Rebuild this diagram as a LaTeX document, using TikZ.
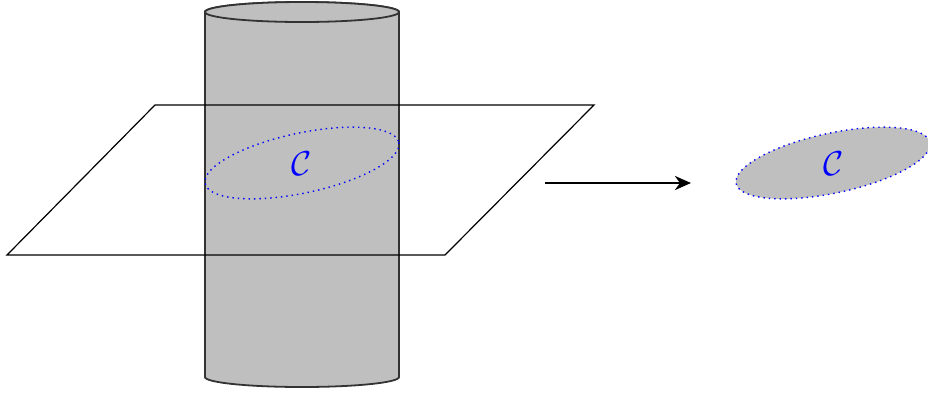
\documentclass[tikz,border=0pt]{standalone}
\usetikzlibrary{arrows.meta}
\begin{document}
\begin{tikzpicture}[x=0.5pt,y=-0.5pt,
  cyl/.style={fill=black!25,draw=black!80,line width=0.9pt},
  planeln/.style={draw=black,line width=0.6pt},
  curve/.style={draw=blue,dotted,line width=0.7pt},
  lbl/.style={text=blue,font=\fontsize{17}{20}\selectfont},
  mapto/.style={draw=black,line width=1.4pt,-{Stealth[length=8pt,width=7pt,inset=2.5pt]}}]
\useasboundingbox (0,0) rectangle (928,393);
% cylinder
\path[cyl] (205,12) -- (205,377) arc[start angle=180,end angle=0,x radius=97,y radius=10] -- (399,12) arc[start angle=0,end angle=-180,x radius=97,y radius=10] -- cycle;
\draw[cyl] (302,12) ellipse[x radius=97,y radius=10];
% plane
\draw[planeln] (155,105) -- (594,105) -- (445,255) -- (7,255) -- cycle;
% curve C on the cylinder
\draw[curve,rotate around={12:(302,163)}] (302,163) ellipse[x radius=99,y radius=30];
\node[lbl] (c1) at (302,164) {$\mathcal{C}$};
% arrow
\coordinate (a1) at (545,183);
\coordinate (a2) at (691,183);
\draw[mapto] (a1) -- (a2);
% resulting curve
\draw[curve,fill=black!25,rotate around={12:(833,163)}] (833,163) ellipse[x radius=99,y radius=30];
\node[lbl] (c2) at (834,164) {$\mathcal{C}$};
\end{tikzpicture}
\end{document}
